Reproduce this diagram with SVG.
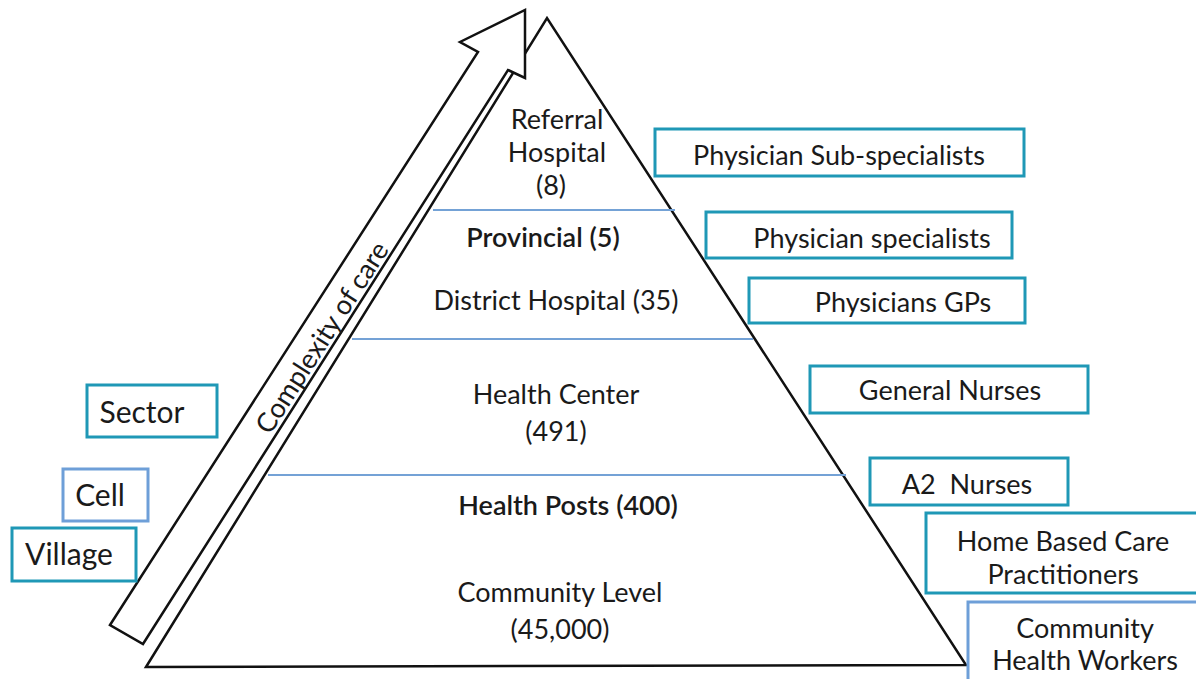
<svg xmlns="http://www.w3.org/2000/svg" width="1196" height="679" viewBox="0 0 1196 679">
<style>
  text { font-family: Lato, "Open Sans", "Liberation Sans", sans-serif; font-size: 27px; fill: #1a1a1a; text-anchor: middle; }
  .teal { fill: #ffffff; stroke: #1f98b6; stroke-width: 3; }
  .blue { fill: #ffffff; stroke: #6e9fd8; stroke-width: 3; }
  .tier { stroke: #74a2d6; stroke-width: 2; fill: none; }
  .outline { fill: #ffffff; stroke: #111111; stroke-width: 2.5; stroke-linejoin: miter; }
  .em { font-weight: 600; }
  .big { font-size: 30px; }
</style>
<rect width="1196" height="679" fill="#ffffff"/>

<g id="pyramid">
  <polygon class="outline" points="146,667 547,18 966,665"/>
</g>

<g id="connectors">
  <line class="tier" x1="433" y1="210" x2="675" y2="210"/>
  <line class="tier" x1="352" y1="339" x2="753" y2="339"/>
  <line class="tier" x1="268" y1="475" x2="846" y2="475"/>
</g>

<g id="arrow">
  <polygon class="outline" points="110,625 478,52 460,42 525,10 525,78 508,70 143,644"/>
  <text transform="translate(321,337) rotate(-57.3)" dominant-baseline="central">Complexity of care</text>
</g>

<g id="tier-referral">
  <text x="557" y="129">Referral</text>
  <text x="557" y="162">Hospital</text>
  <text x="551" y="195">(8)</text>
</g>
<g id="tier-provincial">
  <text class="em" x="543" y="247">Provincial (5)</text>
</g>
<g id="tier-district">
  <text x="556" y="310">District Hospital (35)</text>
</g>
<g id="tier-health-center">
  <text x="556" y="404">Health Center</text>
  <text x="556" y="441">(491)</text>
</g>
<g id="tier-health-posts">
  <text class="em" x="568" y="515">Health Posts (400)</text>
</g>
<g id="tier-community">
  <text x="560" y="602">Community Level</text>
  <text x="560" y="639">(45,000)</text>
</g>

<g id="box-subspecialists">
  <rect class="teal" x="655" y="129" width="369" height="47"/>
  <text x="839" y="165">Physician Sub-specialists</text>
</g>
<g id="box-specialists">
  <rect class="teal" x="706" y="212" width="306" height="46"/>
  <text x="872" y="248">Physician specialists</text>
</g>
<g id="box-gps">
  <rect class="teal" x="749" y="278" width="276" height="45"/>
  <text x="903" y="312">Physicians GPs</text>
</g>
<g id="box-general-nurses">
  <rect class="teal" x="810" y="366" width="278" height="47"/>
  <text x="950" y="400">General Nurses</text>
</g>
<g id="box-a2-nurses">
  <rect class="teal" x="870" y="458" width="198" height="47"/>
  <text x="967" y="494" xml:space="preserve">A2  Nurses</text>
</g>
<g id="box-home-based">
  <rect class="teal" x="926" y="513" width="280" height="80"/>
  <text x="1063" y="551">Home Based Care</text>
  <text x="1063" y="584">Practitioners</text>
</g>
<g id="box-chw">
  <rect class="blue" x="968" y="602" width="240" height="90"/>
  <text x="1085" y="638">Community</text>
  <text x="1085" y="670">Health Workers</text>
</g>

<g id="box-sector">
  <rect class="teal" x="87" y="385" width="130" height="52"/>
  <text class="big" x="142" y="423">Sector</text>
</g>
<g id="box-cell">
  <rect class="blue" x="63" y="469" width="85" height="52"/>
  <text class="big" x="100" y="506">Cell</text>
</g>
<g id="box-village">
  <rect class="teal" x="12" y="528" width="124" height="53"/>
  <text class="big" x="69" y="565">Village</text>
</g>
</svg>
